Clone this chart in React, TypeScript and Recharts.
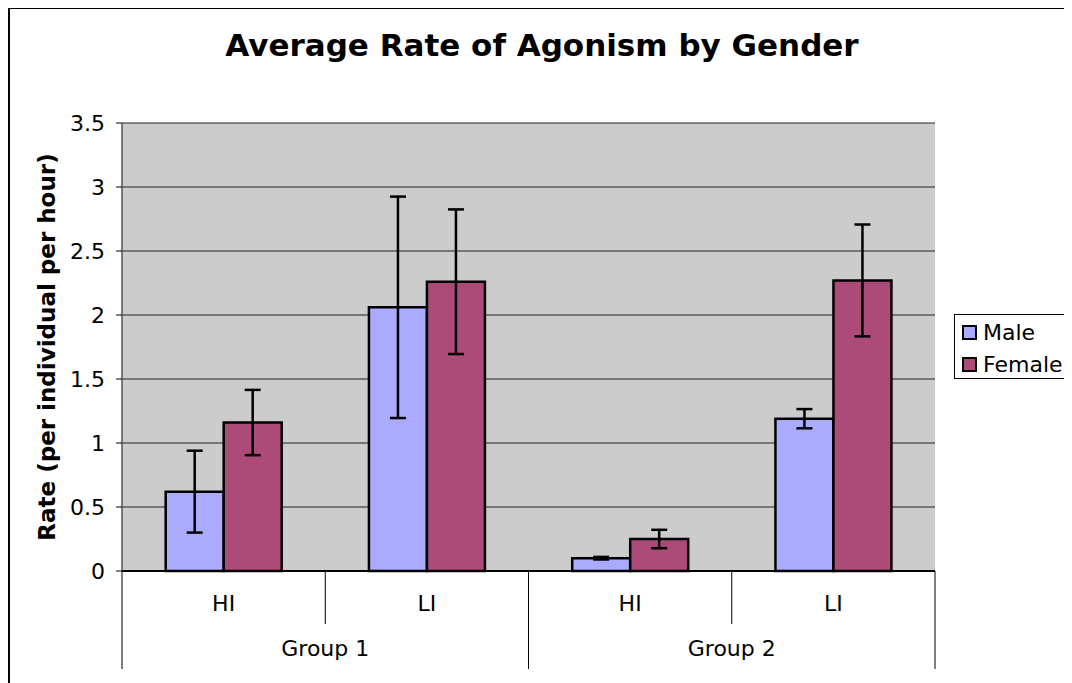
import { BarChart, Bar, XAxis, YAxis, CartesianGrid, ErrorBar } from 'recharts';

const subCategories = ['HI', 'LI', 'HI', 'LI'];
const groupNames = ['Group 1', 'Group 1', 'Group 2', 'Group 2'];
const maleValues = [0.62, 2.06, 0.1, 1.19];
const femaleValues = [1.16, 2.26, 0.25, 2.27];
const maleErrors = [0.32, 0.865, 0.01, 0.075];
const femaleErrors = [0.255, 0.565, 0.072, 0.437];
const yTicks = [0, 0.5, 1, 1.5, 2, 2.5, 3, 3.5];
const seriesNames = ['Male', 'Female'];
const seriesColors = ['#AAAAFF', '#AC4A78'];

const data = subCategories.map((sub, i) => ({
    sub,
    group: groupNames[i],
    male: maleValues[i],
    female: femaleValues[i],
    maleErr: maleErrors[i],
    femaleErr: femaleErrors[i],
}));

const FONT = '"DejaVu Sans", Verdana, sans-serif';

// two-level category axis: sub labels + separators + group labels
function GroupedTick(props: any) {
    const { x, y, payload, index } = props;
    const half = payload?.offset ?? 0;
    const left = x - half;
    const isGroupStart = index === 0 || groupNames[index] !== groupNames[index - 1];
    const isLast = index === subCategories.length - 1;
    let groupLabel = null;
    if (isGroupStart) {
        const size = groupNames.filter((g) => g === groupNames[index]).length;
        groupLabel = (
            <text x={left + size * half} y={y + 77} textAnchor="middle" dominantBaseline="central" fontSize={22} fill="#000">
                {groupNames[index]}
            </text>
        );
    }
    return (
        <g>
            <line x1={left} y1={y} x2={left} y2={y + (isGroupStart ? 98 : 53)} stroke="#000" strokeWidth={1} />
            {isLast && <line x1={x + half} y1={y} x2={x + half} y2={y + 98} stroke="#000" strokeWidth={1} />}
            <text x={x} y={y + 32} textAnchor="middle" dominantBaseline="central" fontSize={22} fill="#000">
                {payload.value}
            </text>
            {groupLabel}
        </g>
    );
}

export default function App() {
    return (
        <div style={{ position: 'relative', width: 1064, height: 677, marginTop: -2, marginLeft: -1, fontFamily: FONT }}>
            <div
                style={{
                    position: 'absolute',
                    left: 0,
                    width: 1070,
                    top: 24,
                    textAlign: 'center',
                    fontSize: 31,
                    lineHeight: '31px',
                    fontWeight: 'bold',
                    color: '#000',
                }}
            >
                Average Rate of Agonism by Gender
            </div>
            <BarChart
                width={1064}
                height={677}
                data={data}
                margin={{ top: 117, right: 136, left: 0, bottom: 0 }}
                barCategoryGap="21.5%"
                barGap={0}
                style={{ fontFamily: FONT }}
            >
                <CartesianGrid vertical={false} fill="#CCCCCC" stroke="#222" strokeWidth={1} />
                <XAxis
                    dataKey="sub"
                    height={112}
                    tickSize={0}
                    tickMargin={0}
                    tickLine={false}
                    axisLine={{ stroke: '#000', strokeWidth: 2 }}
                    tick={<GroupedTick />}
                    interval={0}
                />
                <YAxis
                    width={115}
                    domain={[0, 3.5]}
                    ticks={yTicks}
                    tickSize={6}
                    tickMargin={11}
                    axisLine={{ stroke: '#555', strokeWidth: 1.5 }}
                    tickLine={{ stroke: '#000' }}
                    tick={{ fill: '#000', fontSize: 22 }}
                    label={{
                        value: 'Rate (per individual per hour)',
                        angle: -90,
                        position: 'insideLeft',
                        offset: 40,
                        style: { textAnchor: 'middle', fontWeight: 'bold', fontSize: 23, fill: '#000' },
                    }}
                />
                <YAxis
                    yAxisId="frame"
                    orientation="right"
                    width={0}
                    tick={false}
                    tickLine={false}
                    axisLine={{ stroke: '#999', strokeWidth: 2 }}
                />
                <Bar dataKey="male" name={seriesNames[0]} fill={seriesColors[0]} stroke="#000" strokeWidth={2.5} isAnimationActive={false}>
                    <ErrorBar dataKey="maleErr" width={8} stroke="#000" strokeWidth={2.5} />
                </Bar>
                <Bar dataKey="female" name={seriesNames[1]} fill={seriesColors[1]} stroke="#000" strokeWidth={2.5} isAnimationActive={false}>
                    <ErrorBar dataKey="femaleErr" width={8} stroke="#000" strokeWidth={2.5} />
                </Bar>
            </BarChart>
            <div
                style={{
                    position: 'absolute',
                    left: 947,
                    top: 308,
                    width: 117,
                    height: 65,
                    boxSizing: 'border-box',
                    border: '1px solid #000',
                    background: '#fff',
                }}
            >
                {seriesNames.map((name, i) => (
                    <div
                        key={name}
                        style={{
                            position: 'absolute',
                            left: 7,
                            top: 3 + i * 32,
                            height: 28,
                            display: 'flex',
                            alignItems: 'center',
                            fontSize: 22,
                            color: '#000',
                        }}
                    >
                        <span
                            style={{
                                display: 'inline-block',
                                width: 15,
                                height: 15,
                                boxSizing: 'border-box',
                                border: '2px solid #000',
                                background: seriesColors[i],
                                marginRight: 6,
                            }}
                        />
                        {name}
                    </div>
                ))}
            </div>
            <div
                style={{
                    position: 'absolute',
                    left: 1,
                    top: 1,
                    width: 1063,
                    height: 676,
                    boxSizing: 'border-box',
                    borderTop: '2px solid #000',
                    borderLeft: '2px solid #000',
                    pointerEvents: 'none',
                    zIndex: 5,
                }}
            />
        </div>
    );
}
